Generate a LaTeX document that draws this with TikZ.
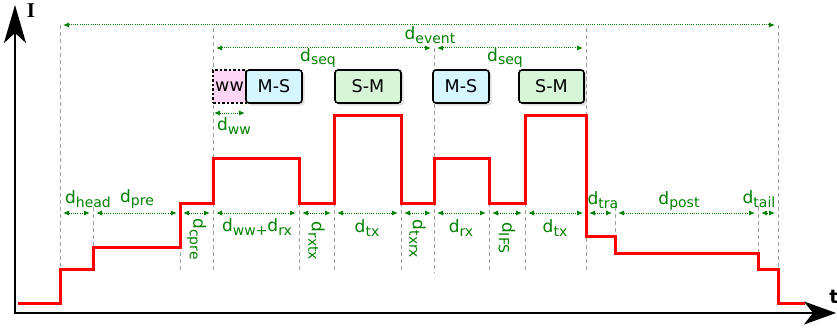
\documentclass[tikz,border=0pt]{standalone}
\usepackage{fontspec}
\setsansfont{DejaVu Sans}
\newfontfamily\axisfont{Liberation Serif}
\usetikzlibrary{arrows.meta,shadows}
\definecolor{dimgreen}{RGB}{0,128,0}
\definecolor{msfill}{RGB}{213,245,255}
\definecolor{smfill}{RGB}{215,245,215}
\definecolor{wwfill}{RGB}{255,213,245}
\newcommand{\dsub}[1]{d\raisebox{-3.5pt}{\fontsize{14}{14}\selectfont #1}}

\tikzset{
	dim/.style={dimgreen, line width=1pt, dash pattern=on 1pt off 1.2pt, {Latex[length=6pt,width=5pt]}-{Latex[length=6pt,width=5pt]}, shorten <=3pt, shorten >=3pt},
	guide/.style={gray!75, line width=1pt, dash pattern=on 4pt off 3pt},
	dimlabel/.style={dimgreen, font=\sffamily\fontsize{17}{18}\selectfont, inner sep=1pt},
	msgbox/.style={draw=black, line width=1.6pt, rounded corners=3pt, minimum height=33pt, inner sep=0pt, font=\sffamily\fontsize{17.5}{18}\selectfont, drop shadow={shadow xshift=2.5pt, shadow yshift=-2.5pt, opacity=0.25}},
	level/.style={red, line width=3pt}
}

\begin{document}
\begin{tikzpicture}[x=1pt, y=-1pt]
	%%%%% START %%%%%
	\useasboundingbox (0,0) rectangle (837,329);
	
	% guide lines
	\draw[guide] (60,25) -- (60,269);
	\draw[guide] (93,207) -- (93,247);
	\draw[guide] (180,203) -- (180,273);
	\draw[guide] (213,28) -- (213,273);
	\draw[guide] (299,203) -- (299,273);
	\draw[guide] (334,203) -- (334,273);
	\draw[guide] (401,203) -- (401,273);
	\draw[guide] (434,48) -- (434,273);
	\draw[guide] (489,203) -- (489,273);
	\draw[guide] (525,203) -- (525,273);
	\draw[guide] (586,28) -- (586,273);
	\draw[guide] (615,207) -- (615,236);
	\draw[guide] (758,207) -- (758,253);
	\draw[guide] (778,25) -- (778,269);
	
	% axes
	\draw[line width=2.5pt, {Stealth[length=38pt,width=22pt,inset=10pt]}-{Stealth[length=32pt,width=23pt,inset=9pt]}] (15,5) -- (15,313) -- (836,313);
	\node[font=\axisfont\bfseries\fontsize{21}{22}\selectfont, inner sep=0pt] (ilabel) at (31,11) {I};
	\node[font=\sffamily\bfseries\fontsize{19}{20}\selectfont, inner sep=0pt] (tlabel) at (834,297) {t};
	
	% current
	\draw[level] (18,303) -- (60,303) -- (60,269) -- (93,269) -- (93,247) -- (180,247) -- (180,203) -- (213,203) -- (213,158) -- (299,158) -- (299,203) -- (334,203) -- (334,115) -- (401,115) -- (401,203) -- (434,203) -- (434,158) -- (489,158) -- (489,203) -- (525,203) -- (525,115) -- (586,115) -- (586,236) -- (615,236) -- (615,253) -- (758,253) -- (758,269) -- (778,269) -- (778,303) -- (805,303);
	
	% packets
	\node[draw=black, line width=1.8pt, dash pattern=on 2.5pt off 2pt, fill=wwfill, minimum width=33pt, minimum height=33pt, inner sep=0pt, font=\sffamily\fontsize{17.5}{18}\selectfont] (ww) at (229.5,86.5) {ww};
	\node[msgbox, fill=msfill, minimum width=56pt] (ms1) at (274,86.5) {M-S};
	\node[msgbox, fill=smfill, minimum width=66pt] (sm1) at (368,86.5) {S-M};
	\node[msgbox, fill=msfill, minimum width=56pt] (ms2) at (461,86.5) {M-S};
	\node[msgbox, fill=smfill, minimum width=65pt] (sm2) at (551.5,86.5) {S-M};
	
	% top durations
	\coordinate (ev0) at (60,25);
	\coordinate (ev1) at (778,25);
	\coordinate (sq0) at (213,48);
	\coordinate (sq1) at (434,48);
	\coordinate (sq2) at (586,48);
	\coordinate (ww0) at (213,113);
	\coordinate (ww1) at (246,113);
	\draw[dim] (ev0) -- (ev1);
	\draw[dim] (sq0) -- (sq1);
	\draw[dim] (sq1) -- (sq2);
	\draw[dim, shorten <=1pt, shorten >=1pt] (ww0) -- (ww1);
	\node[dimlabel] (levent) at (430,35) {\dsub{event}};
	\node[dimlabel] (lseq1) at (318,58) {\dsub{seq}};
	\node[dimlabel] (lseq2) at (505,58) {\dsub{seq}};
	\node[dimlabel] (lww) at (234,126) {\dsub{ww}};
	
	% bottom durations
	\coordinate (b1) at (60,213);
	\coordinate (b2) at (93,213);
	\coordinate (b3) at (180,213);
	\coordinate (b4) at (213,213);
	\coordinate (b5) at (299,213);
	\coordinate (b6) at (334,213);
	\coordinate (b7) at (401,213);
	\coordinate (b8) at (434,213);
	\coordinate (b9) at (489,213);
	\coordinate (b10) at (525,213);
	\coordinate (b11) at (586,213);
	\coordinate (b12) at (615,213);
	\coordinate (b13) at (758,213);
	\coordinate (b14) at (778,213);
	\draw[dim] (b1) -- (b2);
	\draw[dim] (b2) -- (b3);
	\draw[dim] (b3) -- (b4);
	\draw[dim] (b4) -- (b5);
	\draw[dim] (b5) -- (b6);
	\draw[dim] (b6) -- (b7);
	\draw[dim] (b7) -- (b8);
	\draw[dim] (b8) -- (b9);
	\draw[dim] (b9) -- (b10);
	\draw[dim] (b10) -- (b11);
	\draw[dim] (b11) -- (b12);
	\draw[dim] (b12) -- (b13);
	\draw[dim] (b13) -- (b14);
	
	\node[dimlabel] (lhead) at (88,199) {\dsub{head}};
	\node[dimlabel] (lpre) at (137,199) {\dsub{pre}};
	\node[dimlabel, rotate=-90] (lcpre) at (196.5,239) {\dsub{cpre}};
	\node[dimlabel] (lwwrx) at (257,227) {\dsub{ww+}\dsub{rx}};
	\node[dimlabel, rotate=-90] (lrxtx) at (316.5,241) {\dsub{rxtx}};
	\node[dimlabel] (ltx1) at (367,228) {\dsub{tx}};
	\node[dimlabel, rotate=-90] (ltxrx) at (417.5,239) {\dsub{txrx}};
	\node[dimlabel] (lrx) at (461,228) {\dsub{rx}};
	\node[dimlabel, rotate=-90] (lifs) at (507,238) {\dsub{IFS}};
	\node[dimlabel] (ltx2) at (555,228) {\dsub{tx}};
	\node[dimlabel] (ltra) at (603,200) {\dsub{tra}};
	\node[dimlabel] (lpost) at (679,201) {\dsub{post}};
	\node[dimlabel] (ltail) at (759,199) {\dsub{tail}};
	
	%%%%% END %%%%%
\end{tikzpicture}
\end{document}
